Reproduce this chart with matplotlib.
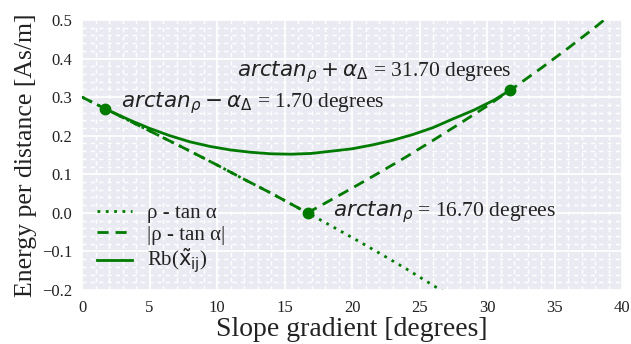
import matplotlib
matplotlib.use("Agg")
import matplotlib.pyplot as plt
from matplotlib.ticker import MultipleLocator, AutoMinorLocator

# ---- data ----
alpha_lin = [0, 2, 4, 6, 8, 10, 12, 14, 16, 16.7, 18, 20, 22, 24, 26, 28,
             30, 32, 34, 36, 38, 38.7]
diff_vals = [0.300, 0.265, 0.230, 0.195, 0.160, 0.124, 0.087, 0.051, 0.013,
             0.000, -0.025, -0.064, -0.104, -0.145, -0.188, -0.232,
             -0.277, -0.325, -0.375, -0.427, -0.481, -0.501]
abs_vals = [0.300, 0.265, 0.230, 0.195, 0.160, 0.124, 0.087, 0.051, 0.013,
            0.000, 0.025, 0.064, 0.104, 0.145, 0.188, 0.232,
            0.277, 0.325, 0.375, 0.427, 0.481, 0.501]

alpha_rb = [1.7, 2.5, 3.5, 5, 6.5, 8, 9.5, 11, 12.5, 14, 15.5, 17, 18.5, 20,
            21.5, 23, 24.5, 26, 27.5, 29, 30.5, 31.7]
rb_vals = [0.270, 0.257, 0.241, 0.219, 0.200, 0.184, 0.172, 0.163, 0.157,
           0.153, 0.152, 0.154, 0.160, 0.166, 0.176, 0.188, 0.203, 0.221,
           0.244, 0.266, 0.292, 0.318]

point_x = [1.7, 16.7, 31.7]
point_y = [0.270, 0.000, 0.318]
point_labels = [r"$arctan_\rho - \alpha_\Delta$" + " = 1.70 degrees",
                r"$arctan_\rho$" + " = 16.70 degrees",
                r"$arctan_\rho + \alpha_\Delta$" + " = 31.70 degrees"]
label_pos = [(2.9, 0.285), (18.6, 0.003), (11.5, 0.365)]

series_labels = ["ρ - tan α", "|ρ - tan α|", r"Rb($\mathrm{\tilde{x}_{ij}}$)"]

green = "#007a00"
serif = ["Liberation Serif", "DejaVu Serif"]

fig = plt.figure(figsize=(6.31, 3.44), dpi=100)
ax = fig.add_axes([0.130, 0.157, 0.856, 0.785])
ax.set_facecolor("#EAEAF2")
for s in ax.spines.values():
    s.set_visible(False)

ax.plot(alpha_lin, diff_vals, color=green, lw=2, ls=(0, (1, 2)), label=series_labels[0])
ax.plot(alpha_lin, abs_vals, color=green, lw=2, ls=(0, (4, 2.5)), label=series_labels[1])
ax.plot(alpha_rb, rb_vals, color=green, lw=2, ls="-", label=series_labels[2])
ax.plot(point_x, point_y, "o", color=green, ms=7.5, zorder=5)

for lab, (tx, ty) in zip(point_labels, label_pos):
    ax.text(tx, ty, lab, fontsize=15.5, family=serif, va="center", ha="left",
            color="#222222")

ax.set_xlim(0, 40)
ax.set_ylim(-0.2, 0.5)
ax.xaxis.set_major_locator(MultipleLocator(5))
ax.yaxis.set_major_locator(MultipleLocator(0.1))
ax.xaxis.set_minor_locator(AutoMinorLocator(5))
ax.yaxis.set_minor_locator(AutoMinorLocator(5))
ax.grid(which="major", color="white", lw=1.3)
ax.grid(which="minor", color="white", lw=1.0, ls=(0, (3, 3)))
ax.set_axisbelow(True)
ax.tick_params(which="both", length=0, labelsize=12, pad=7, colors="#222222")
for t in ax.get_xticklabels() + ax.get_yticklabels():
    t.set_family(serif)

ax.set_xlabel("Slope gradient [degrees]", fontsize=20, family=serif, labelpad=1, color="#222222")
ax.set_ylabel("Energy per distance [As/m]", fontsize=18.5, family=serif, labelpad=4, color="#222222")

leg = ax.legend(loc="lower left", frameon=False, handlelength=1.7,
                prop={"family": serif, "size": 15}, labelspacing=0.1,
                borderaxespad=0.3, handletextpad=0.7)
for t in leg.get_texts():
    t.set_color("#222222")

fig.savefig("out.png", dpi=100)
